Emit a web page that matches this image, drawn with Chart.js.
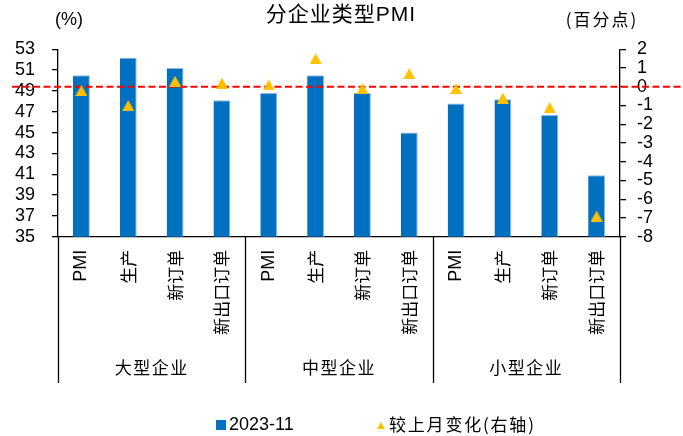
<!DOCTYPE html>
<html>
<head>
<meta charset="utf-8">
<script src="https://cdn.jsdelivr.net/npm/chart.js@4.4.0/dist/chart.umd.min.js"></script>
<style>
  html, body { margin: 0; padding: 0; background: #fff; }
  #wrap { width: 683px; height: 436px; }
</style>
</head>
<body>
<div id="wrap"><canvas id="c" width="683" height="436"></canvas></div>
<script>
// PMI sub-indices by enterprise size, November 2023
const categories = ['PMI', '生产', '新订单', '新出口订单',
                    'PMI', '生产', '新订单', '新出口订单',
                    'PMI', '生产', '新订单', '新出口订单'];
const groups = ['大型企业', '中型企业', '小型企业'];
const pmiNov2023 = [50.5, 52.2, 51.2, 48.1,
                    48.8, 50.5, 48.8, 45.0,
                    47.8, 48.2, 46.7, 40.9];
const momChange = [-0.2, -1.0, 0.3, 0.2,
                    0.1, 1.5, -0.1, 0.7,
                   -0.1, -0.6, -1.1, -6.9];
const leftAxisRange = [35, 53];
const leftAxisStep = 2;
const rightAxisRange = [-8, 2];
const rightAxisStep = 1;

const TITLE = '分企业类型PMI';
const LEFT_UNIT = '(%)';
const RIGHT_UNIT = '(百分点)';
const BAR_LABEL = '2023-11';
const CHANGE_LABEL = '较上月变化(右轴)';

const NUM_FONT = '"Liberation Sans", Arial, "Noto Sans CJK SC", sans-serif';
const CJK_FONT = '"Noto Sans CJK SC", "Liberation Sans", sans-serif';
const BLUE = '#0070C0';
const GOLD = '#FFC000';

// Triangle marker drawn as an image so it sits centred on its value
function triangleMark(w, h, color) {
  const c = document.createElement('canvas');
  c.width = w; c.height = h;
  const g = c.getContext('2d');
  g.fillStyle = color;
  g.beginPath();
  g.moveTo(w / 2, 0);
  g.lineTo(w, h);
  g.lineTo(0, h);
  g.closePath();
  g.fill();
  return c;
}
const triPoint = triangleMark(12, 11, GOLD);
const triLegend = triangleMark(8, 7, GOLD);

function drawText(ctx, text, x, y, font, align, spacing) {
  ctx.save();
  ctx.font = font;
  ctx.fillStyle = '#000';
  ctx.textAlign = align || 'left';
  ctx.textBaseline = 'middle';
  if ('letterSpacing' in ctx) ctx.letterSpacing = (spacing || 0) + 'px';
  ctx.fillText(text, x, y);
  const w = ctx.measureText(text).width;
  ctx.restore();
  return w;
}

const decor = {
  id: 'decor',
  afterDatasetDraw(chart, args) {
    if (args.index !== 1) return;
    // zero line of the change axis
    const yR = chart.scales.yR;
    const y = yR.getPixelForValue(0);
    const ctx = chart.ctx;
    ctx.save();
    ctx.strokeStyle = '#FF0000';
    ctx.lineWidth = 2;
    ctx.setLineDash([7, 3.5]);
    ctx.beginPath();
    ctx.moveTo(12, y);
    ctx.lineTo(chart.width, y);
    ctx.stroke();
    ctx.restore();
  },
  afterDraw(chart) {
    const ctx = chart.ctx;
    const ca = chart.chartArea;
    const xs = chart.scales.x;

    // title and unit captions
    drawText(ctx, TITLE, 341, 15, '21px ' + NUM_FONT, 'center', 1);
    drawText(ctx, LEFT_UNIT, 69, 20, '18px ' + NUM_FONT, 'center', 0);
    drawText(ctx, RIGHT_UNIT, 602, 20, '17px ' + CJK_FONT, 'center', 2);

    // group separators and group names below the category labels
    const per = categories.length / groups.length;
    const edge = (k) => {
      if (k === 0) return ca.left;
      if (k === groups.length) return ca.right;
      return (xs.getPixelForValue(k * per - 1) + xs.getPixelForValue(k * per)) / 2;
    };
    ctx.save();
    ctx.strokeStyle = '#000';
    ctx.lineWidth = 1.3;
    for (let k = 0; k <= groups.length; k++) {
      const x = Math.round(edge(k)) + 0.5;
      ctx.beginPath();
      ctx.moveTo(x, ca.bottom);
      ctx.lineTo(x, 383);
      ctx.stroke();
    }
    ctx.restore();
    groups.forEach((g, k) => {
      drawText(ctx, g, (edge(k) + edge(k + 1)) / 2, 368, '17px ' + CJK_FONT, 'center', 1.5);
    });

    // legend
    ctx.save();
    ctx.fillStyle = BLUE;
    ctx.fillRect(216, 420, 10, 10);
    ctx.drawImage(triLegend, 377, 422);
    ctx.restore();
    drawText(ctx, BAR_LABEL, 229, 425, '18px ' + NUM_FONT, 'left', 0);
    drawText(ctx, CHANGE_LABEL, 389, 425, '17px ' + CJK_FONT, 'left', 1.8);
  }
};

new Chart(document.getElementById('c'), {
  type: 'bar',
  data: {
    labels: categories,
    datasets: [
      {
        type: 'line',
        label: CHANGE_LABEL,
        data: momChange,
        yAxisID: 'yR',
        showLine: false,
        pointStyle: triPoint,
        pointRadius: 6,
        pointHoverRadius: 6,
        order: 0
      },
      {
        type: 'bar',
        label: BAR_LABEL,
        data: pmiNov2023,
        yAxisID: 'yL',
        backgroundColor: BLUE,
        borderColor: '#8DB8E2',
        borderWidth: { top: 1, right: 1, left: 0, bottom: 0 },
        borderSkipped: 'start',
        barPercentage: 0.36,
        categoryPercentage: 1,
        order: 1
      }
    ]
  },
  options: {
    responsive: false,
    animation: false,
    devicePixelRatio: 1,
    layout: { padding: { top: 49.3, left: 0, right: 0, bottom: 0 } },
    plugins: {
      legend: { display: false },
      title: { display: false },
      tooltip: { enabled: false }
    },
    scales: {
      x: {
        grid: { display: false, drawTicks: false },
        border: { display: true, color: '#000', width: 1.3 },
        ticks: {
          autoSkip: false,
          minRotation: 90,
          maxRotation: 90,
          padding: 13,
          color: '#000',
          font: (c) => {
            const lbl = categories[c.index] || '';
            return /^[A-Za-z]+$/.test(lbl)
              ? { family: NUM_FONT, size: 18 }
              : { family: CJK_FONT, size: 17 };
          }
        },
        afterFit: (s) => { s.height = 436 - 236.7; }
      },
      yL: {
        position: 'left',
        min: leftAxisRange[0],
        max: leftAxisRange[1],
        ticks: { stepSize: leftAxisStep, autoSkip: false, color: '#000', padding: 17, font: { family: NUM_FONT, size: 18 } },
        grid: { drawOnChartArea: false, drawTicks: true, tickLength: 6, color: '#000', lineWidth: 1.3 },
        border: { display: true, color: '#000', width: 1.3 },
        afterFit: (s) => { s.width = 58; }
      },
      yR: {
        position: 'right',
        min: rightAxisRange[0],
        max: rightAxisRange[1],
        ticks: { stepSize: rightAxisStep, autoSkip: false, color: '#000', padding: 11, font: { family: NUM_FONT, size: 18 } },
        grid: { drawOnChartArea: false, drawTicks: true, tickLength: 6, color: '#000', lineWidth: 1.3 },
        border: { display: true, color: '#000', width: 1.3 },
        afterFit: (s) => { s.width = 63; }
      }
    }
  },
  plugins: [decor]
});
</script>
</body>
</html>
